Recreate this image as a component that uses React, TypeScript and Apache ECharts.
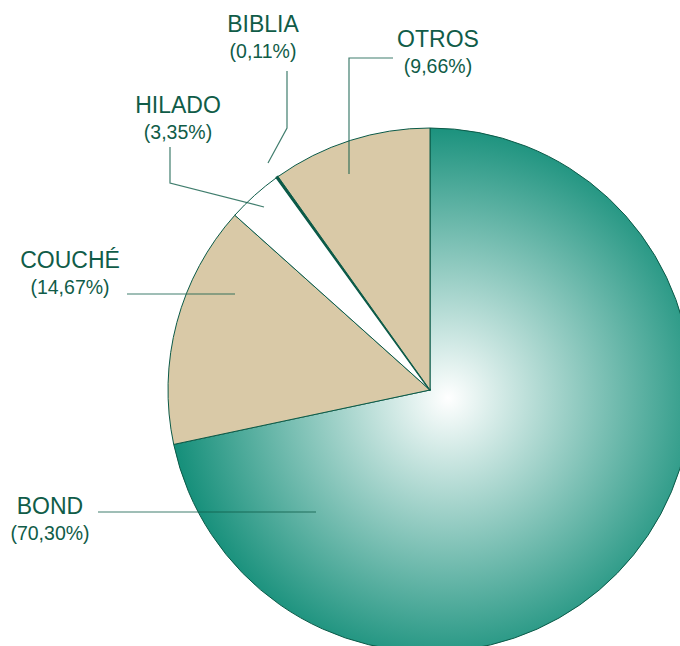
import React, { useEffect, useRef } from "react";
import * as echarts from "echarts";

const categories = ["BOND", "COUCHÉ", "HILADO", "BIBLIA", "OTROS"];
const values = [70.3, 14.67, 3.35, 0.11, 9.66];
const sliceColors = ["gradient", "#d9c9a7", "#ffffff", "#0c5e4b", "#d9c9a7"];

const FONT = "Liberation Sans, Arial, sans-serif";
const TEXT = "#105c48";

export default function App() {
  const ref = useRef<HTMLDivElement>(null);
  useEffect(() => {
    if (!ref.current) return;
    const chart = echarts.init(ref.current, undefined, { renderer: "svg" });
    const grad = new echarts.graphic.RadialGradient(
      448,
      398,
      275,
      [
        { offset: 0, color: "#ffffff" },
        { offset: 1, color: "#17907b" },
      ],
      true
    );
    const labelPos: Record<number, any> = {
      0: { x: 50, y: 519, pts: [[98, 512], [207, 512], [316, 512]] },
      1: { x: 70, y: 273, pts: [[127, 294], [181, 294], [235, 294]] },
      2: { x: 178, y: 118, pts: [[170, 147], [170, 183], [264, 207]] },
      3: { x: 263, y: 37, pts: [[287, 71], [287, 128], [268, 163]] },
      4: { x: 438, y: 52, pts: [[393, 58], [349, 58], [349, 174]] },
    };
    const common = {
      type: "pie",
      center: [430, 390],
      radius: 262,
      startAngle: 90,
      clockwise: true,
      avoidLabelOverlap: false,
      emphasis: { disabled: true },
    };
    chart.setOption({
      animation: false,
      series: [
        {
          ...common,
          z: 1,
          data: categories.map((c, i) => ({
            name: c,
            value: values[i],
            itemStyle: {
              color: sliceColors[i] === "gradient" ? grad : sliceColors[i],
              borderColor: "#0b5a48",
              borderWidth: i === 3 ? 2 : 1,
            },
          })),
          label: { show: false },
          labelLine: { show: false },
        },
        {
          ...common,
          z: 5,
          silent: true,
          data: categories.map((c, i) => ({
            name: c,
            value: values[i],
            itemStyle: { color: "rgba(0,0,0,0)", borderWidth: 0 },
          })),
          label: {
            show: true,
            position: "outside",
            color: TEXT,
            fontFamily: FONT,
            formatter: (p: any) =>
              `{n|${p.name}}\n{p|(${Number(p.value).toFixed(2).replace(".", ",")}%)}`,
            rich: {
              n: { fontSize: 23, lineHeight: 28, color: TEXT, fontFamily: FONT, align: "center" },
              p: { fontSize: 19.5, lineHeight: 26, color: TEXT, fontFamily: FONT, align: "center" },
            },
          },
          labelLine: {
            show: true,
            lineStyle: { color: "rgba(16,92,72,0.8)", width: 1.2 },
          },
          labelLayout: (params: any) => {
            const l = labelPos[params.dataIndex];
            return {
              x: l.x,
              y: l.y,
              align: "center",
              verticalAlign: "middle",
              labelLinePoints: l.pts,
            };
          },
        },
      ],
    });
    return () => chart.dispose();
  }, []);
  return (
    <div
      ref={ref}
      style={{ position: "fixed", left: 0, top: 0, width: 680, height: 646, background: "#fff" }}
    />
  );
}
